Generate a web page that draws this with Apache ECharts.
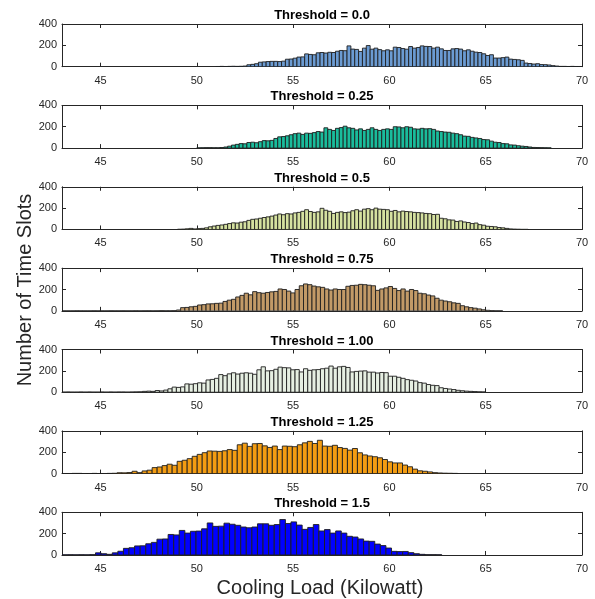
<!DOCTYPE html>
<html>
<head>
<meta charset="utf-8">
<script src="https://cdn.jsdelivr.net/npm/echarts@6/dist/echarts.min.js"></script>
<style>
html,body{margin:0;padding:0;background:#fff;}
#chart{width:595px;height:599px;}
</style>
</head>
<body>
<div id="chart"></div>
<script>
// ---------- DATA ----------
const xTickValues = [45, 50, 55, 60, 65, 70];
const yTickValues = [0, 200, 400];
const panelTitles = ['Threshold = 0.0', 'Threshold = 0.25', 'Threshold = 0.5', 'Threshold = 0.75', 'Threshold = 1.00', 'Threshold = 1.25', 'Threshold = 1.5'];
const xAxisTitle = 'Cooling Load (Kilowatt)';
const yAxisTitle = 'Number of Time Slots';

// histogram bins: first bin left edge and bin width for each panel
const binStart = [51.0, 50.0, 49.0, 43.0, 43.0, 43.0, 43.0];
const binWidth = [0.2, 0.2, 0.2, 0.22, 0.22, 0.26, 0.29];

const counts00 = [2,3,2,3,4,3,4,6,18,22, 28,42,45,48,50,50,48,52,70,72, 80,90,92,120,115,112,130,133,128,135,
  133,145,152,150,195,165,162,143,174,198, 164,174,160,149,158,149,183,180,170,164, 189,174,180,195,190,189,174,183,167,152,
  152,167,170,165,149,158,145,136,133,121, 105,112,81,81,85,90,71,68,65,59, 34,30,25,28,20,19,16,10,6,3, 3,2,3,2,2];
const counts025 = [2,3,4,4,3,3,5,10,18,28, 35,42,40,52,55,50,60,70,68,72, 90,105,108,115,125,135,140,128,140,138,
  145,155,150,190,175,165,185,192,205,190, 185,170,180,165,175,190,175,165,175,180, 175,200,198,190,200,195,180,178,185,180,
  182,175,160,155,150,148,140,135,125,112, 110,100,95,90,80,78,65,55,52,42, 40,30,28,22,18,15,10,6,5,4, 3,2];
const counts05 = [2,3,6,10,5,8,10,15,25,32, 38,42,48,55,62,60,68,72,85,95, 98,105,112,118,125,135,145,138,148,145,
  155,160,170,185,168,160,165,198,180,170, 150,160,165,158,162,175,185,172,190,195, 185,200,190,188,185,170,178,165,172,168,
  165,160,158,155,150,148,140,142,105,100, 90,88,75,80,70,65,55,60,45,40, 30,28,25,18,15,10,5,3,2,1, 1];
const counts075 = [1,1,1,2,1,1,1,2,1,1, 1,2,1,1,2,1,1,2,1,2, 2,1,2,3,2,2,3,8,30,32,
  38,42,55,58,65,66,70,72,88,100, 108,130,145,165,150,180,170,165,172,178, 182,205,200,185,168,200,235,252,245,232,
  225,220,205,195,205,200,200,230,238,240, 248,245,240,235,192,205,215,228,210,190, 205,185,200,190,165,160,148,140,118,100,
  92,85,75,70,48,38,30,25,18,10, 5,3,2,2];
const counts100 = [1,2,1,1,2,1,2,1,1,2, 1,2,1,2,2,1,2,3,4,8, 10,8,16,12,20,32,48,45,50,78,
  75,80,88,85,115,120,130,165,155,172, 182,170,178,182,178,168,210,238,200,202, 215,235,230,228,210,212,190,220,205,210,
  212,220,225,245,225,238,242,232,190,195, 198,200,188,188,180,185,183,150,150,140, 130,118,112,105,90,85,72,65,62,42,
  35,30,25,18,14,10,8,6,4,3];
const counts125 = [1,1,2,2,1,1,2,1,1,2, 3,8,7,10,22,9,25,32,56,62, 75,88,78,115,125,140,162,180,196,212,
  210,208,214,225,218,270,285,255,280,282, 260,245,258,225,258,256,252,270,288,302, 282,312,258,256,265,244,236,220,235,195,
  175,165,158,148,132,110,100,100,80,64, 42,26,22,16,9,6,4,3,2];
const counts150 = [1,2,1,2,1,3,20,12,6,20, 35,62,68,85,86,105,118,148,150,192, 188,230,205,222,224,245,300,268,270,298,
  288,278,262,255,262,292,292,278,285,332, 295,310,280,240,258,285,225,238,205,225, 205,175,168,150,130,128,102,88,65,34,
  32,33,22,12,6,3,3,2];
const panelCounts = [counts00, counts025, counts05, counts075, counts100, counts125, counts150];

// ---------- STYLE / LAYOUT ----------
const fillColors = ['#6b9bd2', '#1abc9c', '#d5e1a0', '#c29a67', '#e6efe2', '#f39c12', '#0000ff'];
const FONT = '"Liberation Sans", Arial, Helvetica, sans-serif';
const AX = '#262626';
const gridLeft = 62, gridWidth = 520, gridTop0 = 24, gridPitch = 81.38, gridHeight = 42.7;

const grids = [], xAxes = [], yAxes = [], series = [], graphics = [];
panelCounts.forEach(function (cnts, i) {
  const top = gridTop0 + i * gridPitch;
  grids.push({ left: gridLeft, top: top, width: gridWidth, height: gridHeight, containLabel: false });
  // bottom x axis
  xAxes.push({
    type: 'value', gridIndex: i, min: 43, max: 70, position: 'bottom',
    axisLine: { show: true, onZero: false, lineStyle: { color: AX, width: 1 } },
    axisTick: { show: true, inside: true, length: 4, customValues: xTickValues, lineStyle: { color: AX } },
    axisLabel: { show: true, customValues: xTickValues, margin: 8.5, color: AX, fontSize: 11, fontFamily: FONT },
    splitLine: { show: false }
  });
  // top x axis (box)
  xAxes.push({
    type: 'value', gridIndex: i, min: 43, max: 70, position: 'top',
    axisLine: { show: true, onZero: false, lineStyle: { color: AX, width: 1 } },
    axisTick: { show: true, inside: true, length: 4, customValues: xTickValues, lineStyle: { color: AX } },
    axisLabel: { show: false },
    splitLine: { show: false }
  });
  yAxes.push({
    type: 'value', gridIndex: i, min: 0, max: 400, interval: 200, position: 'left',
    axisLine: { show: true, onZero: false, lineStyle: { color: AX, width: 1 } },
    axisTick: { show: true, inside: true, length: 4, lineStyle: { color: AX } },
    axisLabel: { show: true, margin: 5, color: AX, fontSize: 11, fontFamily: FONT },
    splitLine: { show: false }
  });
  yAxes.push({
    type: 'value', gridIndex: i, min: 0, max: 400, interval: 200, position: 'right',
    axisLine: { show: true, onZero: false, lineStyle: { color: AX, width: 1 } },
    axisTick: { show: true, inside: true, length: 4, lineStyle: { color: AX } },
    axisLabel: { show: false },
    splitLine: { show: false }
  });
  const data = cnts.map(function (c, k) {
    const x0 = binStart[i] + k * binWidth[i];
    return [x0, x0 + binWidth[i], c];
  });
  const color = fillColors[i];
  series.push({
    type: 'custom',
    xAxisIndex: 2 * i,
    yAxisIndex: 2 * i,
    clip: true,
    encode: { x: [0, 1], y: 2 },
    data: data,
    renderItem: function (params, api) {
      const p0 = api.coord([api.value(0), api.value(2)]);
      const p1 = api.coord([api.value(1), 0]);
      return {
        type: 'rect',
        shape: { x: p0[0], y: p0[1], width: p1[0] - p0[0], height: p1[1] - p0[1] },
        style: { fill: color, stroke: '#1e1e1e', lineWidth: 0.9 }
      };
    }
  });
  graphics.push({
    type: 'text', x: gridLeft + gridWidth / 2, y: top - 8.5,
    style: { text: panelTitles[i], textAlign: 'center', textVerticalAlign: 'middle', font: 'bold 13px ' + FONT, fill: '#000' }
  });
});

graphics.push({
  type: 'text', x: 320, y: 588,
  style: { text: xAxisTitle, textAlign: 'center', textVerticalAlign: 'middle', font: '20px ' + FONT, fill: AX }
});
graphics.push({
  type: 'text', x: 25, y: 290, rotation: Math.PI / 2,
  style: { text: yAxisTitle, textAlign: 'center', textVerticalAlign: 'middle', font: '20px ' + FONT, fill: AX }
});

const chart = echarts.init(document.getElementById('chart'), null, { renderer: 'canvas' });
chart.setOption({
  animation: false,
  backgroundColor: '#fff',
  grid: grids,
  xAxis: xAxes,
  yAxis: yAxes,
  series: series,
  graphic: graphics
});
</script>
</body>
</html>
